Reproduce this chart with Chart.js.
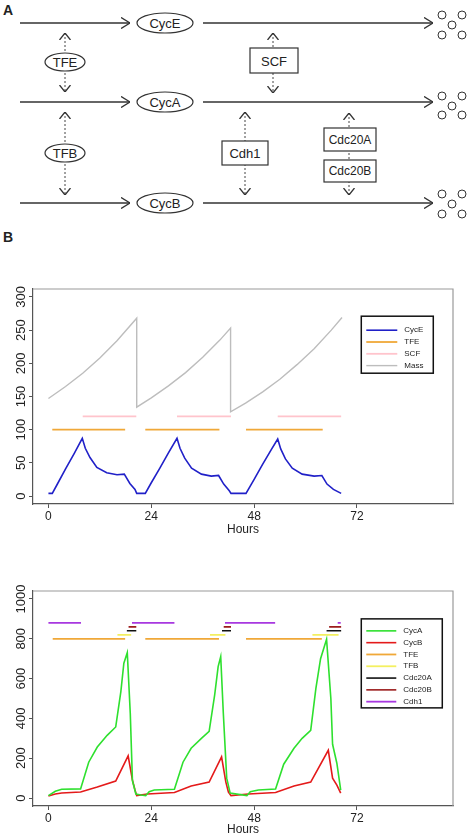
<!DOCTYPE html>
<html lang="en">
<head>
<meta charset="UTF-8">
<title>Cell cycle model</title>
<script src="https://cdn.jsdelivr.net/npm/chart.js"></script>
<style>
    body {
        margin: 0;
        background: #fff;
        width: 470px;
        height: 838px;
        position: relative;
        overflow: hidden;
        font-family: Arial, "Liberation Sans", sans-serif;
    }
    #diagram { position: absolute; left: 0; top: 0; }
    #chartTop { position: absolute; left: 0; top: 280px; }
    #chartBottom { position: absolute; left: 0; top: 578px; }
    svg text { fill: #222; }
</style>
</head>
<body>

<!-- panel A: the model scheme -->
<svg id="diagram" width="470" height="250" font-family="Arial, 'Liberation Sans', sans-serif">
    <defs>
        <marker id="head" viewBox="0 0 9 12" refX="9" refY="6" markerWidth="9" markerHeight="12"
                markerUnits="userSpaceOnUse" orient="auto-start-reverse">
            <path d="M0,0.5 L9,6 L0,11.5" fill="none" stroke="#333" stroke-width="1.4"/>
        </marker>
        <marker id="headS" viewBox="0 0 7 12" refX="7" refY="6" markerWidth="7" markerHeight="12"
                markerUnits="userSpaceOnUse" orient="auto-start-reverse">
            <path d="M0,0.5 L7,6 L0,11.5" fill="none" stroke="#333" stroke-width="1.3"/>
        </marker>
    </defs>
    <text x="3" y="15" font-size="14" font-weight="bold">A</text>
    <text x="3" y="242" font-size="14" font-weight="bold">B</text>

    <g stroke="#333" stroke-width="1.3" fill="none">
        <line x1="20" y1="23" x2="130" y2="23" marker-end="url(#head)"/>
        <line x1="203" y1="23" x2="433" y2="23" marker-end="url(#head)"/>
        <line x1="20" y1="102" x2="130" y2="102" marker-end="url(#head)"/>
        <line x1="203" y1="102" x2="433" y2="102" marker-end="url(#head)"/>
        <line x1="20" y1="203" x2="130" y2="203" marker-end="url(#head)"/>
        <line x1="203" y1="203" x2="433" y2="203" marker-end="url(#head)"/>
    </g>
    <g stroke="#444" stroke-width="1" stroke-dasharray="2,2" fill="none">
        <line x1="65" y1="33" x2="65" y2="92" marker-start="url(#headS)" marker-end="url(#headS)"/>
        <line x1="65" y1="112" x2="65" y2="195" marker-start="url(#headS)" marker-end="url(#headS)"/>
        <line x1="273" y1="33" x2="273" y2="93" marker-start="url(#headS)" marker-end="url(#headS)"/>
        <line x1="245" y1="112" x2="245" y2="195" marker-start="url(#headS)" marker-end="url(#headS)"/>
        <line x1="349" y1="113" x2="349" y2="195" marker-start="url(#headS)" marker-end="url(#headS)"/>
    </g>
    <g stroke="#333" stroke-width="1.2" fill="#fff">
        <ellipse cx="165" cy="23" rx="28" ry="10"/>
        <ellipse cx="165" cy="102" rx="28" ry="10"/>
        <ellipse cx="165" cy="203" rx="28" ry="10"/>
        <ellipse cx="65" cy="62" rx="20" ry="9"/>
        <ellipse cx="65" cy="153" rx="20" ry="9"/>
        <rect x="250" y="48" width="48" height="25"/>
        <rect x="222" y="141" width="46" height="24"/>
        <rect x="324" y="128" width="52" height="23"/>
        <rect x="324" y="160" width="52" height="22"/>
    </g>
    <g font-size="13" text-anchor="middle" dominant-baseline="central">
        <text x="165" y="23">CycE</text>
        <text x="165" y="102">CycA</text>
        <text x="165" y="203">CycB</text>
        <text x="65" y="62">TFE</text>
        <text x="65" y="153">TFB</text>
        <text x="274" y="61">SCF</text>
        <text x="245" y="153">Cdh1</text>
        <text x="350" y="140" font-size="12">Cdc20A</text>
        <text x="350" y="171" font-size="12">Cdc20B</text>
    </g>
    <g stroke="#333" stroke-width="1" fill="none">
        <circle cx="442" cy="15" r="4"/><circle cx="462" cy="15" r="4"/><circle cx="452" cy="25" r="4"/>
        <circle cx="442" cy="35" r="4"/><circle cx="462" cy="35" r="4"/>
        <circle cx="442" cy="96" r="4"/><circle cx="462" cy="96" r="4"/><circle cx="452" cy="106" r="4"/>
        <circle cx="442" cy="115" r="4"/><circle cx="462" cy="115" r="4"/>
        <circle cx="442" cy="194" r="4"/><circle cx="462" cy="194" r="4"/><circle cx="452" cy="204" r="4"/>
        <circle cx="442" cy="214" r="4"/><circle cx="462" cy="214" r="4"/>
    </g>
</svg>

<canvas id="chartTop" width="470" height="260"></canvas>
<canvas id="chartBottom" width="470" height="260"></canvas>

<script>
// ---- shared axis ticks ----
const hourTicks = [0, 24, 48, 72];
const topYTicks = [0, 50, 100, 150, 200, 250, 300];
const bottomYTicks = [0, 200, 400, 600, 800, 1000];

// ---- top panel: CycE, TFE, SCF, Mass ----
const massHours  = [0, 4, 8, 12, 16, 20.6, 20.6, 24, 28, 32, 36, 40, 42.5, 42.5, 46, 50, 54, 58, 62, 66, 68.5];
const massValues = [147, 165, 185, 208, 234, 268, 134, 148, 166, 186, 209, 235, 253, 127, 140, 157, 176, 198, 222, 250, 269];

const cycEHours  = [0, 0.9, 2, 4, 6, 7.9, 8.6, 9.7, 11.3, 13.6, 16, 17.7, 19, 20.2, 20.6, 22.6, 24, 26, 28, 30,
                    30.7, 31.8, 33.4, 35.7, 38, 39.7, 40.9, 42.2, 42.6, 46.1, 48, 50, 52, 53.5,
                    54.2, 55.3, 56.9, 59.2, 62, 63.8, 65, 66.5, 68.3];
const cycEValues = [4, 4, 17, 41, 64, 87, 72, 58, 43, 35, 32, 33, 19, 10, 4, 4, 20, 42, 65, 87,
                    72, 57, 42, 33, 30, 31, 18, 8, 4, 4, 25, 48, 70, 86,
                    71, 56, 42, 33, 30, 31, 18, 10, 4];

const tfeTopSegments = [[0.9, 17.9], [22.6, 39.9], [46.1, 64.0]];
const tfeTopLevel = 100;
const scfSegments = [[8.0, 20.5], [30.0, 42.6], [53.5, 68.3]];
const scfLevel = 120;

// ---- bottom panel: CycA, CycB and the regulators ----
const cycAHours  = [0, 1.6, 3.1, 7.5, 9.4, 11.4, 13.7, 15.7, 16.9, 17.6, 18.4, 19.1, 19.6, 20.4, 21.6, 22.7,
                    23.5, 24.7, 29.4, 31.4, 33.3, 35.7, 37.5, 38.8, 39.6, 40.2, 40.8, 41.6, 42.4, 46.3,
                    47.1, 49, 53, 54.9, 57.3, 59.2, 61.2, 62.4, 63.5, 64.9, 65.9, 66.3, 67.3, 68.2];
const cycAValues = [12, 34, 44, 46, 180, 256, 315, 357, 535, 677, 730, 424, 88, 20, 15, 12,
                    32, 40, 44, 180, 250, 300, 335, 520, 660, 710, 430, 100, 25, 12,
                    32, 40, 45, 170, 250, 300, 340, 550, 700, 797, 500, 270, 175, 40];

const cycBHours  = [0, 1.6, 3.1, 7.5, 11.4, 15.7, 18.6, 19.6, 20.2, 20.6, 23.1, 29.4, 33.3, 37.5, 40.4,
                    41.4, 42, 42.6, 46.7, 53, 57.3, 61.2, 65.3, 66.3, 67.3, 68.2];
const cycBValues = [10, 20, 25, 30, 55, 85, 212, 90, 40, 12, 20, 28, 60, 80, 207,
                    80, 30, 12, 20, 28, 60, 80, 240, 100, 65, 25];

const tfeBottomSegments = [[1.0, 17.9], [22.6, 39.8], [46.1, 63.8]];
const tfeBottomLevel = 800;
const tfbSegments = [[16.1, 19.3], [37.7, 41.3], [61.6, 67.7]];
const tfbLevel = 820;
const cdc20aSegments = [[18.3, 20.5], [40.5, 42.6], [64.9, 68.3]];
const cdc20aLevel = 840;
const cdc20bSegments = [[18.7, 20.5], [40.9, 42.6], [65.5, 68.3]];
const cdc20bLevel = 860;
const cdh1Segments = [[0, 7.6], [19.5, 29.4], [41.2, 52.9], [67.5, 68.2]];
const cdh1Level = 880;

// helpers to turn the arrays into chart points
function toPoints(hours, values) {
    return hours.map((h, i) => ({ x: h, y: values[i] }));
}
function segmentPoints(segments, level) {
    const pts = [];
    segments.forEach(([a, b]) => {
        pts.push({ x: a, y: level }, { x: b, y: level }, { x: b, y: null });
    });
    return pts;
}
function line(label, data, color, width) {
    return { label: label, data: data, borderColor: color, backgroundColor: color,
             borderWidth: width || 1.6, pointRadius: 0, tension: 0, spanGaps: false };
}

const FONT = 'Arial, "Liberation Sans", sans-serif';

// plugin: rotated y tick labels (like R's default las=0)
const rotatedYLabels = {
    id: 'rotatedY',
    afterDraw(chart, args, opts) {
        const ctx = chart.ctx, y = chart.scales.y;
        ctx.save();
        ctx.fillStyle = '#222';
        ctx.font = '13px ' + FONT;
        ctx.textAlign = 'center';
        ctx.textBaseline = 'middle';
        opts.ticks.forEach(v => {
            ctx.save();
            ctx.translate(opts.x, y.getPixelForValue(v));
            ctx.rotate(-Math.PI / 2);
            ctx.fillText(String(v), 0, 0);
            ctx.restore();
        });
        ctx.restore();
    }
};

// plugin: light frame on the top and right of the plot region
const plotFrame = {
    id: 'plotFrame',
    afterDraw(chart) {
        const { ctx, chartArea: a } = chart;
        ctx.save();
        ctx.strokeStyle = '#9a9a9a';
        ctx.lineWidth = 1.2;
        ctx.beginPath();
        ctx.moveTo(a.left, a.top);
        ctx.lineTo(a.right, a.top);
        ctx.lineTo(a.right, a.bottom);
        ctx.stroke();
        ctx.restore();
    }
};

// plugin: boxed legend placed inside the plot at a data position
const boxLegend = {
    id: 'boxLegend',
    afterDraw(chart, args, opts) {
        const ctx = chart.ctx;
        const left = chart.scales.x.getPixelForValue(opts.x);
        const top = chart.scales.y.getPixelForValue(opts.y);
        ctx.save();
        ctx.fillStyle = '#fff';
        ctx.fillRect(left, top, opts.width, opts.height);
        ctx.strokeStyle = '#111';
        ctx.lineWidth = 1.5;
        ctx.strokeRect(left, top, opts.width, opts.height);
        ctx.font = '8px ' + FONT;
        ctx.textBaseline = 'middle';
        ctx.fillStyle = '#222';
        chart.data.datasets.forEach((ds, i) => {
            const yy = top + opts.first + i * opts.gap;
            ctx.strokeStyle = ds.borderColor;
            ctx.lineWidth = ds.borderWidth;
            ctx.beginPath();
            ctx.moveTo(left + 5, yy);
            ctx.lineTo(left + 5 + opts.lineLen, yy);
            ctx.stroke();
            ctx.fillText(ds.label, left + 12 + opts.lineLen, yy);
        });
        ctx.restore();
    }
};

function buildOptions(o) {
    return {
        responsive: false,
        animation: false,
        devicePixelRatio: 1,
        layout: { padding: { top: o.plotTop, right: 17, left: 0, bottom: 0 } },
        plugins: {
            legend: { display: false },
            tooltip: { enabled: false },
            rotatedY: { ticks: o.yTicks, x: 21 },
            boxLegend: o.legend
        },
        scales: {
            x: {
                type: 'linear',
                min: -3.6,
                max: 94.4,
                afterBuildTicks: s => { s.ticks = hourTicks.map(v => ({ value: v })); },
                afterFit: s => { s.height = o.xHeight; },
                grid: { drawOnChartArea: false, tickLength: 4, color: '#555' },
                border: { color: '#555', width: 1.2 },
                ticks: { color: '#222', font: { size: 12, family: FONT }, padding: 1, maxRotation: 0, autoSkip: false },
                title: { display: true, text: 'Hours', color: '#222', font: { size: 12, family: FONT },
                         padding: { top: 0, bottom: o.titlePad } }
            },
            y: {
                type: 'linear',
                min: o.yMin,
                max: o.yMax,
                afterBuildTicks: s => { s.ticks = o.yTicks.map(v => ({ value: v })); },
                afterFit: s => { s.width = 33; },
                grid: { drawOnChartArea: false, tickLength: 4, color: '#555' },
                border: { color: '#555', width: 1.2 },
                ticks: { display: false }
            }
        }
    };
}

// top chart
new Chart(document.getElementById('chartTop'), {
    type: 'line',
    data: {
        datasets: [
            line('CycE', toPoints(cycEHours, cycEValues), '#2020c8', 1.6),
            line('TFE', segmentPoints(tfeTopSegments, tfeTopLevel), '#f0a838', 1.8),
            line('SCF', segmentPoints(scfSegments, scfLevel), '#ffc4cc', 1.8),
            line('Mass', toPoints(massHours, massValues), '#bdbdbd', 1.4)
        ]
    },
    options: buildOptions({
        plotTop: 9, xHeight: 36, titlePad: 3,
        yMin: -12, yMax: 312, yTicks: topYTicks,
        legend: { x: 73, y: 271, width: 72, height: 57, first: 14, gap: 11.8, lineLen: 31 }
    }),
    plugins: [rotatedYLabels, plotFrame, boxLegend]
});

// bottom chart
new Chart(document.getElementById('chartBottom'), {
    type: 'line',
    data: {
        datasets: [
            line('CycA', toPoints(cycAHours, cycAValues), '#2ee02e', 1.6),
            line('CycB', toPoints(cycBHours, cycBValues), '#e41a1a', 1.6),
            line('TFE', segmentPoints(tfeBottomSegments, tfeBottomLevel), '#f0a838', 1.8),
            line('TFB', segmentPoints(tfbSegments, tfbLevel), '#f4f060', 1.8),
            line('Cdc20A', segmentPoints(cdc20aSegments, cdc20aLevel), '#111111', 1.6),
            line('Cdc20B', segmentPoints(cdc20bSegments, cdc20bLevel), '#9b1c1c', 1.6),
            line('Cdh1', segmentPoints(cdh1Segments, cdh1Level), '#a838e0', 1.8)
        ]
    },
    options: buildOptions({
        plotTop: 13, xHeight: 32, titlePad: 1,
        yMin: -40, yMax: 1040, yTicks: bottomYTicks,
        legend: { x: 73, y: 900, width: 81, height: 89, first: 12, gap: 11.8, lineLen: 30 }
    }),
    plugins: [rotatedYLabels, plotFrame, boxLegend]
});
</script>
</body>
</html>
